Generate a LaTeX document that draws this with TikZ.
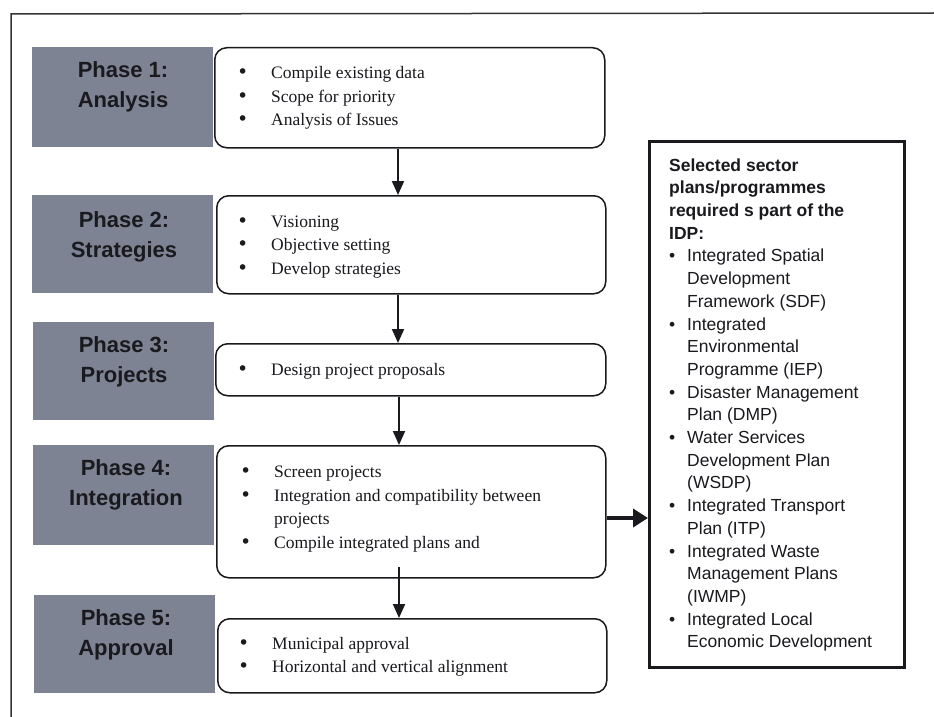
\documentclass[tikz,border=0pt]{standalone}
\usepackage{fontspec}
\setmainfont{Liberation Serif}
\newfontfamily\arialfam{Liberation Sans}
\newfontfamily\dotfam{DejaVu Sans}
\usetikzlibrary{arrows.meta,calc}
\definecolor{phasegray}{RGB}{126,131,148}
\definecolor{inkdark}{RGB}{25,25,30}
\newcommand\bigdot{{\dotfam\fontsize{19}{19}\selectfont •}}
\newcommand\bitem[1]{\makebox[34pt][l]{\bigdot}#1}
\newcommand\bcont[1]{\hspace*{34pt}#1}
\newcommand\ritem[1]{\makebox[18pt][l]{\textbullet}#1}
\newcommand\rcont[1]{\hspace*{18pt}#1}
\begin{document}
\begin{tikzpicture}[x=1pt,y=-1pt,
  phasebox/.style={fill=phasegray, draw=none, minimum width=181pt, inner sep=0pt, anchor=north west},
  phaselbl/.style={font=\arialfam\bfseries\fontsize{22}{30}\selectfont, text=inkdark, align=center, inner sep=0pt},
  stepbox/.style={draw=inkdark, line width=1.5pt, rounded corners=12pt, fill=white, inner sep=0pt, anchor=north west},
  steptext/.style={font=\fontsize{17.5}{23.5}\selectfont, text=inkdark, align=left, anchor=west, inner sep=0pt},
  sidebox/.style={draw=inkdark, line width=3pt, fill=white, inner sep=0pt, anchor=north west, minimum width=255pt, minimum height=526pt},
  sidetext/.style={font=\arialfam\fontsize{17.5}{22.7}\selectfont, text=inkdark, align=left, anchor=west, inner sep=0pt},
  flow/.style={draw=inkdark, line width=2pt, -{Triangle[length=14pt,width=12pt]}},
  bigflow/.style={draw=inkdark, line width=4pt, -{Triangle[length=15pt,width=18pt]}}
]
\useasboundingbox (0,0) rectangle (934,717);
\fill[white] (0,0) rectangle (934,717);
% outer frame (top and left edges)
\coordinate (fc) at (11,14);
\draw[line width=1.5pt, draw=black!80] (934,13) -- (fc) -- (11,717);

% grey phase boxes
\node[phasebox, minimum height=100pt] (g1) at (32,47) {};
\node[phasebox, minimum height=98pt] (g2) at (32,195) {};
\node[phasebox, minimum height=98pt] (g3) at (33,322) {};
\node[phasebox, minimum height=100pt] (g4) at (33,445) {};
\node[phasebox, minimum height=98pt] (g5) at (34,595) {};

\node[phaselbl] (l1) at (123,87) {Phase 1:\\Analysis};
\node[phaselbl] (l2) at (124,237) {Phase 2:\\Strategies};
\node[phaselbl] (l3) at (124,362) {Phase 3:\\Projects};
\node[phaselbl] (l4) at (126,485) {Phase 4:\\Integration};
\node[phaselbl] (l5) at (126,635) {Phase 5:\\Approval};

% white step boxes
\node[stepbox, minimum width=390pt, minimum height=100pt] (b1) at (214,47) {};
\node[stepbox, minimum width=389pt, minimum height=98pt] (b2) at (216,195) {};
\node[stepbox, minimum width=390pt, minimum height=52pt] (b3) at (215,343) {};
\node[stepbox, minimum width=389pt, minimum height=132pt] (b4) at (216,445) {};
\node[stepbox, minimum width=389pt, minimum height=74pt] (b5) at (217,618) {};

\node[steptext] (t1) at (237,98) {\bitem{Compile existing data}\\\bitem{Scope for priority}\\\bitem{Analysis of Issues}};
\node[steptext] (t2) at (237,247) {\bitem{Visioning}\\\bitem{Objective setting}\\\bitem{Develop strategies}};
\node[steptext] (t3) at (237,371) {\bitem{Design project proposals}};
\node[steptext] (t4) at (240,509) {\bitem{Screen projects}\\\bitem{Integration and compatibility between}\\\bcont{projects}\\\bitem{Compile integrated plans and}};
\node[steptext] (t5) at (238,657) {\bitem{Municipal approval}\\\bitem{Horizontal and vertical alignment}};

% side box
\node[sidebox] (sb) at (648,140) {};
\node[sidetext] (st) at (669,405) {%
{\bfseries Selected sector}\\
{\bfseries plans/programmes}\\
{\bfseries required s part of the}\\
{\bfseries IDP:}\\
\ritem{Integrated Spatial}\\
\rcont{Development}\\
\rcont{Framework (SDF)}\\
\ritem{Integrated}\\
\rcont{Environmental}\\
\rcont{Programme (IEP)}\\
\ritem{Disaster Management}\\
\rcont{Plan (DMP)}\\
\ritem{Water Services}\\
\rcont{Development Plan}\\
\rcont{(WSDP)}\\
\ritem{Integrated Transport}\\
\rcont{Plan (ITP)}\\
\ritem{Integrated Waste}\\
\rcont{Management Plans}\\
\rcont{(IWMP)}\\
\ritem{Integrated Local}\\
\rcont{Economic Development}};

% connectors
\coordinate (ax) at (398,0);
\coordinate (a4s) at (399,567);
\coordinate (hy) at (0,518);
\draw[flow] (b1.south -| ax) -- (b2.north -| ax);
\draw[flow] (b2.south -| ax) -- (b3.north -| ax);
\draw[flow] ($(b3.south -| ax)+(1,0)$) -- ($(b4.north -| ax)+(1,0)$);
\draw[flow] (a4s) -- (b5.north -| a4s);
\draw[bigflow] (b4.east |- hy) -- (sb.west |- hy);
\end{tikzpicture}
\end{document}
